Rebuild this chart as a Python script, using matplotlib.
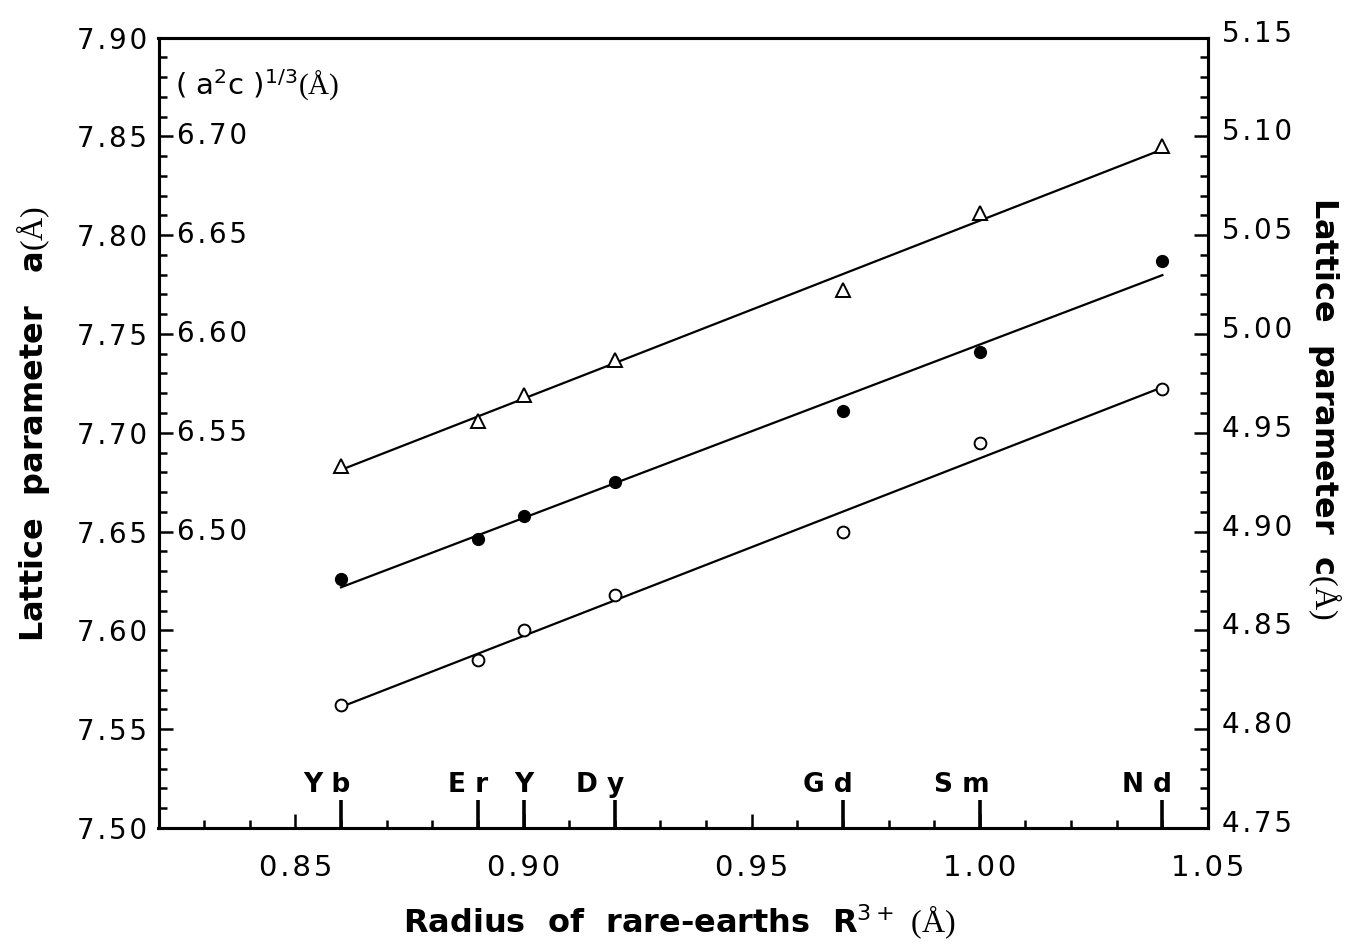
import numpy as np
import matplotlib
matplotlib.use("Agg")
import matplotlib.pyplot as plt
import matplotlib.transforms as mtransforms
from matplotlib.ticker import MultipleLocator, FixedLocator, FuncFormatter

# ---------------- data ----------------
radius = [0.86, 0.89, 0.90, 0.92, 0.97, 1.00, 1.04]
elements = ["Yb", "Er", "Y", "Dy", "Gd", "Sm", "Nd"]
a_param = [7.683, 7.706, 7.719, 7.737, 7.772, 7.811, 7.845]       # triangles, left axis
mean_param = [6.476, 6.496, 6.508, 6.525, 6.561, 6.591, 6.637]    # filled circles, (a^2c)^1/3
c_param = [4.812, 4.835, 4.850, 4.868, 4.900, 4.945, 4.972]       # open circles, right axis

x_ticks = [0.85, 0.90, 0.95, 1.00, 1.05]
left_ticks = [7.50, 7.55, 7.60, 7.65, 7.70, 7.75, 7.80, 7.85, 7.90]
inner_ticks = [6.50, 6.55, 6.60, 6.65, 6.70]
right_ticks = [4.75, 4.80, 4.85, 4.90, 4.95, 5.00, 5.05, 5.10, 5.15]

# ---------------- style ----------------
plt.rcParams["font.family"] = ["DejaVu Sans"]
plt.rcParams["mathtext.fontset"] = "custom"
plt.rcParams["mathtext.rm"] = "DejaVu Sans"
plt.rcParams["mathtext.it"] = "DejaVu Sans:italic"
plt.rcParams["mathtext.bf"] = "DejaVu Sans:bold"
plt.rcParams["mathtext.sf"] = "Liberation Serif"

HS = "\u200a"


def spaced(s):
    return HS.join(s)


W, H = 1350, 946
fig = plt.figure(figsize=(W / 100, H / 100), dpi=100)
L, R, T, B = 158.5, 1208, 37.5, 828
ax = fig.add_axes([L / W, 1 - B / H, (R - L) / W, (B - T) / H])

ax.set_xlim(0.82, 1.05)
ax.set_ylim(7.50, 7.90)
for s in ax.spines.values():
    s.set_linewidth(2.2)

ax.xaxis.set_major_locator(FixedLocator(x_ticks))
ax.xaxis.set_minor_locator(MultipleLocator(0.01))
ax.yaxis.set_major_locator(FixedLocator(left_ticks))
ax.yaxis.set_minor_locator(MultipleLocator(0.01))
ax.xaxis.set_major_formatter(FuncFormatter(lambda v, p: spaced(f"{v:.2f}")))
ax.yaxis.set_major_formatter(FuncFormatter(lambda v, p: spaced(f"{v:.2f}")))
ax.tick_params(which="both", direction="in", width=1.8, top=False, right=False,
               labelsize=20)
ax.tick_params(which="major", length=10)
ax.tick_params(which="minor", length=6)
ax.tick_params(axis="x", which="major", pad=19, labelsize=21)
ax.tick_params(axis="y", which="major", pad=8)

# right axis (c)
ax2 = ax.twinx()
ax2.set_ylim(4.75, 5.15)
ax2.yaxis.set_major_locator(FixedLocator(right_ticks))
ax2.yaxis.set_minor_locator(MultipleLocator(0.01))
ax2.yaxis.set_major_formatter(FuncFormatter(lambda v, p: spaced(f"{v:.2f}")))
ax2.tick_params(which="both", direction="in", width=1.8, labelsize=20)
ax2.tick_params(which="major", length=10, pad=10)
ax2.tick_params(which="minor", length=6)
for s in ax2.spines.values():
    s.set_linewidth(2.2)
shift_up = mtransforms.ScaledTranslation(0, 5 / 72, fig.dpi_scale_trans)
for lab in ax2.get_yticklabels():
    lab.set_transform(lab.get_transform() + shift_up)

# inner axis ((a^2c)^1/3)
ax3 = ax.twinx()
ax3.set_ylim(6.35, 6.75)
ax3.set_axis_off()

# ---------------- data series ----------------
xr = np.array(radius)
xx = np.array([xr.min(), xr.max()])
for axis, vals in ((ax, a_param), (ax3, mean_param), (ax2, c_param)):
    k, b0 = np.polyfit(xr, vals, 1)
    axis.plot(xx, k * xx + b0, color="black", lw=1.6, zorder=2)

ax.plot(radius, a_param, linestyle="none", marker="^", ms=9.5, mfc="white",
        mec="black", mew=1.4, zorder=3)
ax3.plot(radius, mean_param, linestyle="none", marker="o", ms=8.5, mfc="black",
         mec="black", mew=1.0, zorder=3)
ax2.plot(radius, c_param, linestyle="none", marker="o", ms=8.5, mfc="white",
         mec="black", mew=1.4, zorder=3)

# element markers on x axis
btrans = mtransforms.blended_transform_factory(ax.transData, ax.transAxes)
for xe, name in zip(radius, elements):
    ax.plot([xe, xe], [0, 0.036], transform=btrans, color="black", lw=2.6,
            solid_capstyle="butt", clip_on=False)
    ax.annotate(" ".join(name), xy=(xe, 0.038), xycoords=btrans,
                xytext=(7, 0), textcoords="offset points",
                ha="right", va="bottom", fontsize=19, fontweight="bold")

# inner labels for (a^2c)^1/3
itrans = mtransforms.blended_transform_factory(ax.transAxes, ax3.transData)
for v in inner_ticks:
    ax.text(0.018, v, spaced(f"{v:.2f}"), transform=itrans, ha="left",
            va="center", fontsize=20)
ax.text(0.016, 0.94, r"( a$^{2}$c )$^{1/3}$$\mathsf{(Å)}$", transform=ax.transAxes,
        ha="left", va="center", fontsize=21)

# axis labels
fig.text(33 / W, 1 - 424 / H, r"Lattice  parameter   a$\mathsf{(Å)}$", rotation=90,
         ha="center", va="center", fontsize=23, fontweight="bold")
fig.text(1325 / W, 1 - 408 / H, r"Lattice  parameter  c$\mathsf{(Å)}$", rotation=-90,
         ha="center", va="center", fontsize=23, fontweight="bold")
fig.text(679 / W, 1 - 922 / H, r"Radius  of  rare-earths  R$^{3+}$ $\mathsf{(Å)}$",
         ha="center", va="center", fontsize=23, fontweight="bold")

fig.savefig("out.png", dpi=100)
